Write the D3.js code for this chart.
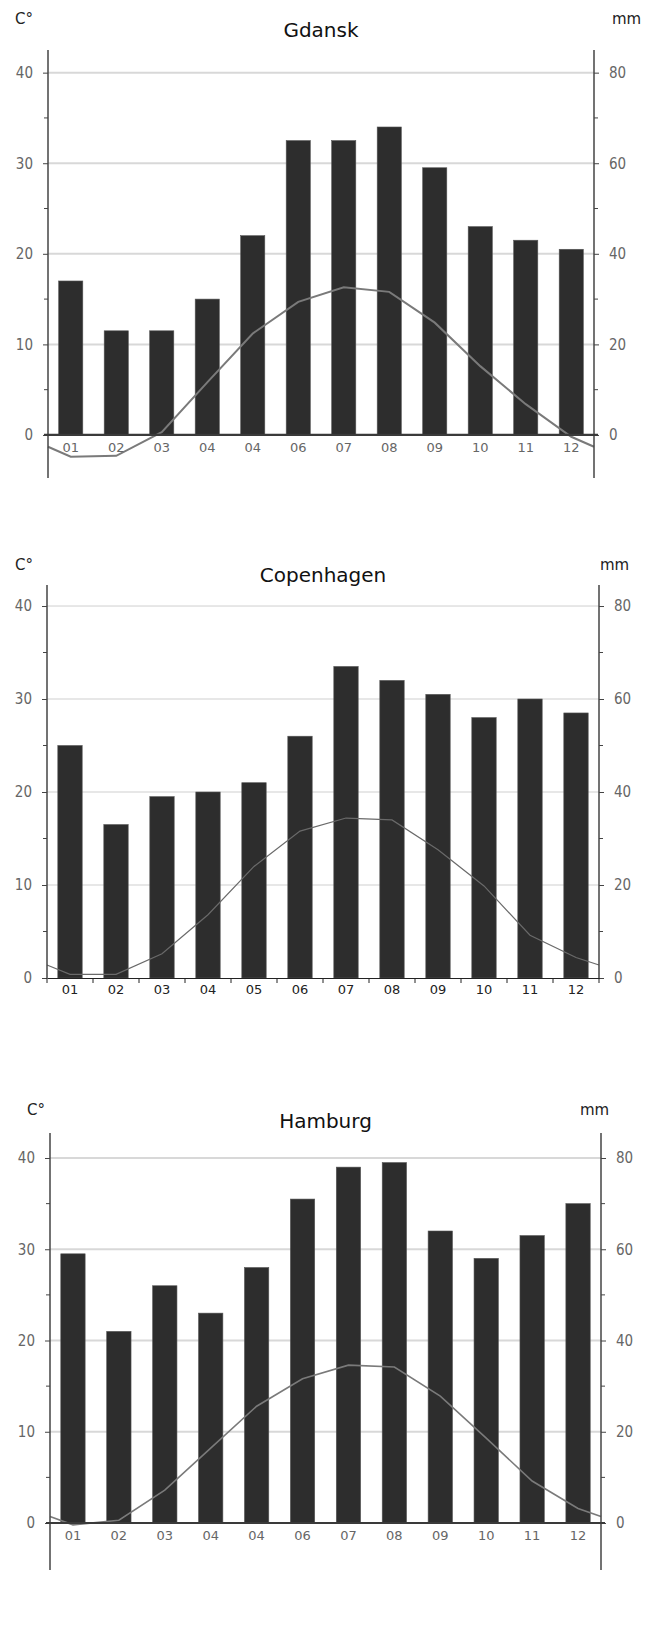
<!DOCTYPE html>
<html>
<head>
<meta charset="utf-8">
<script src="https://cdn.jsdelivr.net/npm/d3@7"></script>
<style>
  body { margin: 0; background: #fff; }
  svg { display: block; }
</style>
</head>
<body>
<div id="chart"></div>
<script>
// month labels as printed on each chart (Gdansk and Hamburg repeat "04")
const labelsGdansk = ["01", "02", "03", "04", "04", "06", "07", "08", "09", "10", "11", "12"];
const labelsCopenhagen = ["01", "02", "03", "04", "05", "06", "07", "08", "09", "10", "11", "12"];
const labelsHamburg = ["01", "02", "03", "04", "04", "06", "07", "08", "09", "10", "11", "12"];

// precipitation, mm
const rainGdansk = [34, 23, 23, 30, 44, 65, 65, 68, 59, 46, 43, 41];
const rainCopenhagen = [50, 33, 39, 40, 42, 52, 67, 64, 61, 56, 60, 57];
const rainHamburg = [59, 42, 52, 46, 56, 71, 78, 79, 64, 58, 63, 70];

// mean temperature, C
const tempGdansk = [-2.4, -2.3, 0.3, 5.8, 11.2, 14.7, 16.3, 15.8, 12.4, 7.6, 3.4, -0.2];
const tempCopenhagen = [0.4, 0.4, 2.6, 6.8, 12.0, 15.8, 17.2, 17.0, 13.8, 9.9, 4.6, 2.2];
const tempHamburg = [-0.2, 0.3, 3.6, 8.2, 12.8, 15.8, 17.3, 17.1, 13.9, 9.3, 4.6, 1.6];

// value where the temperature line meets the side axes
const tempEdgeGdansk = -1.3;
const tempEdgeCopenhagen = 1.4;
const tempEdgeHamburg = 0.7;

const tempTicks = [0, 10, 20, 30, 40];
const tempMinor = [5, 15, 25, 35];
const rainTicks = [0, 20, 40, 60, 80];

const width = 662, height = 1632;

const svg = d3.select("#chart").append("svg")
  .attr("width", width)
  .attr("height", height);

const panels = [
  {
    name: "Gdansk", labels: labelsGdansk, rain: rainGdansk, temp: tempGdansk, edge: tempEdgeGdansk,
    left: 48, right: 594, top: 50, bottom: 478, tMin: -4.75, tMax: 42.5,
    titleY: 37, unitY: 24, cX: 15, mmX: 612,
    grid: { stroke: "#d8d8d8", width: 2 },
    line: { stroke: "#7a7a7a", width: 2 },
    axisTicks: false
  },
  {
    name: "Copenhagen", labels: labelsCopenhagen, rain: rainCopenhagen, temp: tempCopenhagen, edge: tempEdgeCopenhagen,
    left: 47, right: 599, top: 585, bottom: 978, tMin: 0, tMax: 42.26,
    titleY: 582, unitY: 570, cX: 15, mmX: 600,
    grid: { stroke: "#cfcfcf", width: 1 },
    line: { stroke: "#6a6a6a", width: 1.2 },
    axisTicks: true
  },
  {
    name: "Hamburg", labels: labelsHamburg, rain: rainHamburg, temp: tempHamburg, edge: tempEdgeHamburg,
    left: 50, right: 601, top: 1133, bottom: 1570, tMin: -5.15, tMax: 42.74,
    titleY: 1128, unitY: 1115, cX: 27, mmX: 580,
    grid: { stroke: "#d8d8d8", width: 2 },
    line: { stroke: "#7a7a7a", width: 1.6 },
    axisTicks: false
  }
];

panels.forEach(drawPanel);

function drawPanel(p) {
  const g = svg.append("g");

  const x = d3.scaleBand()
    .domain(d3.range(12))
    .range([p.left, p.right])
    .paddingInner(0.47)
    .paddingOuter(0.235);

  const yT = d3.scaleLinear().domain([p.tMin, p.tMax]).range([p.bottom, p.top]);
  const yR = d3.scaleLinear().domain([p.tMin * 2, p.tMax * 2]).range([p.bottom, p.top]);

  // gridlines
  g.append("g")
    .selectAll("line")
    .data(tempTicks.filter(d => d > 0))
    .join("line")
    .attr("x1", p.left).attr("x2", p.right)
    .attr("y1", d => yT(d)).attr("y2", d => yT(d))
    .attr("stroke", p.grid.stroke)
    .attr("stroke-width", p.grid.width);

  // bars (precipitation)
  g.append("g")
    .selectAll("rect")
    .data(p.rain)
    .join("rect")
    .attr("x", (d, i) => x(i))
    .attr("width", x.bandwidth())
    .attr("y", d => yR(d))
    .attr("height", d => yR(0) - yR(d))
    .attr("fill", "#2d2d2d")
    .attr("stroke", "#555")
    .attr("stroke-width", 0.6);

  // temperature line, closed off at the side axes
  const pts = [[p.left, p.edge]]
    .concat(p.temp.map((t, i) => [x(i) + x.bandwidth() / 2, t]))
    .concat([[p.right, p.edge]]);

  g.append("path")
    .datum(pts)
    .attr("fill", "none")
    .attr("stroke", p.line.stroke)
    .attr("stroke-width", p.line.width)
    .attr("d", d3.line().x(d => d[0]).y(d => yT(d[1])));

  // left temperature axis
  const leftAxis = g.append("g")
    .attr("transform", `translate(${p.left},0)`)
    .call(d3.axisLeft(yT).tickValues(tempTicks).tickSize(5).tickPadding(10).tickFormat(d3.format("d")));
  leftAxis.append("g").selectAll("line")
    .data(tempMinor)
    .join("line")
    .attr("x1", -4).attr("x2", 0)
    .attr("y1", d => yT(d)).attr("y2", d => yT(d))
    .attr("stroke", "#444");

  // right precipitation axis
  const rightAxis = g.append("g")
    .attr("transform", `translate(${p.right},0)`)
    .call(d3.axisRight(yR).tickValues(rainTicks).tickSize(5).tickPadding(10).tickFormat(d3.format("d")));
  rightAxis.append("g").selectAll("line")
    .data(tempMinor.map(d => d * 2))
    .join("line")
    .attr("x1", 0).attr("x2", 4)
    .attr("y1", d => yR(d)).attr("y2", d => yR(d))
    .attr("stroke", "#444");

  [leftAxis, rightAxis].forEach(a => {
    a.select(".domain").attr("stroke", "#444").attr("stroke-width", 1.5)
      .attr("d", `M0,${p.top}V${p.bottom}`);
    a.selectAll(".tick line").attr("stroke", "#444");
    a.selectAll(".tick text")
      .attr("fill", "#666")
      .style("font-family", "'DejaVu Sans Condensed', 'Liberation Sans Narrow', sans-serif")
      .style("font-stretch", "condensed")
      .style("font-size", "15px");
  });

  // month axis at zero
  if (p.axisTicks) {
    const xAxis = g.append("g")
      .attr("transform", `translate(0,${yT(0)})`)
      .call(d3.axisBottom(x).tickSize(0).tickPadding(7).tickFormat(i => p.labels[i]));
    xAxis.select(".domain").attr("stroke", "#222").attr("stroke-width", 1.2);
    xAxis.selectAll(".tick text")
      .attr("fill", "#222")
      .style("font-family", "'DejaVu Sans', sans-serif")
      .style("font-size", "13px");
    xAxis.append("g").selectAll("line")
      .data(d3.range(13))
      .join("line")
      .attr("x1", i => p.left + i * x.step())
      .attr("x2", i => p.left + i * x.step())
      .attr("y1", 0).attr("y2", 5)
      .attr("stroke", "#222");
  } else {
    g.append("line")
      .attr("x1", p.left - 4).attr("x2", p.right + 4)
      .attr("y1", yT(0)).attr("y2", yT(0))
      .attr("stroke", "#3a3a3a")
      .attr("stroke-width", 2.2);
    g.append("g")
      .selectAll("text")
      .data(p.labels)
      .join("text")
      .attr("x", (d, i) => x(i) + x.bandwidth() / 2)
      .attr("y", yT(0) + 17)
      .attr("text-anchor", "middle")
      .attr("fill", "#666")
      .style("font-family", "'DejaVu Sans', sans-serif")
      .style("font-size", "13px")
      .text(d => d);
  }

  // title and units
  g.append("text")
    .attr("x", (p.left + p.right) / 2)
    .attr("y", p.titleY)
    .attr("text-anchor", "middle")
    .attr("fill", "#111")
    .style("font-family", "'DejaVu Sans', sans-serif")
    .style("font-size", "20px")
    .text(p.name);

  g.append("text")
    .attr("x", p.cX)
    .attr("y", p.unitY)
    .attr("fill", "#222")
    .style("font-family", "'DejaVu Sans', sans-serif")
    .style("font-size", "15px")
    .text("C°");

  g.append("text")
    .attr("x", p.mmX)
    .attr("y", p.unitY)
    .attr("fill", "#222")
    .style("font-family", "'DejaVu Sans', sans-serif")
    .style("font-size", "15px")
    .text("mm");
}
</script>
</body>
</html>
